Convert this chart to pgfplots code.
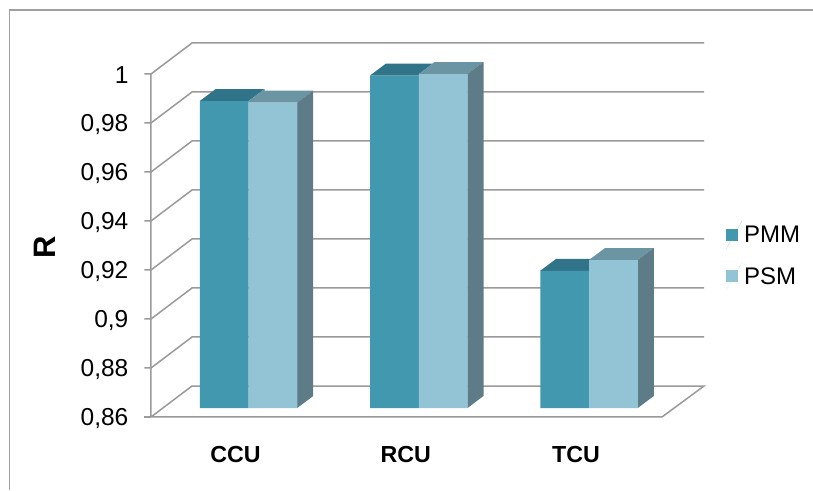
\documentclass[border=0pt]{standalone}
\usepackage{pgfplots}
\usepackage{fontspec}
\setmainfont{Liberation Sans}
\pgfplotsset{compat=1.18}
\definecolor{pmm}{HTML}{4198AF}
\definecolor{pmmtop}{HTML}{31748A}
\definecolor{psm}{HTML}{93C4D6}
\definecolor{psmtop}{HTML}{6C95A3}
\definecolor{side}{HTML}{5D7C87}
\definecolor{gridc}{HTML}{9A9A9A}
\definecolor{framec}{HTML}{A0A0A0}
\begin{document}
\begin{tikzpicture}[x=1pt,y=1pt]
\useasboundingbox (0,0) rectangle (813,490);
\fill[white] (0,0) rectangle (813,490);
\draw[framec,line width=1.5pt] (9.5,0) -- (9.5,480) -- (813,480);
\begin{axis}[
  at={(163.375pt,82pt)},anchor=south west,
  scale only axis,width=510.75pt,height=343pt,
  xmin=-0.5,xmax=2.5,ymin=0.86,ymax=1,
  clip=false,
  axis line style={draw=none},
  major tick length=0pt,
  xtick={0,1,2},xticklabels={CCU,RCU,TCU},
  ytick={0.86,0.88,0.9,0.92,0.94,0.96,0.98,1},
  yticklabel style={/pgf/number format/.cd,use comma,fixed,precision=2,assume math mode=true,/tikz/.cd,
    font=\fontsize{24.5}{28}\selectfont,text=black,inner sep=0pt,anchor=east,xshift=-34.8pt,yshift=-10.5pt},
  xticklabel style={font=\fontsize{23.2}{28}\selectfont\bfseries,text=black,inner sep=0pt,anchor=base,xshift=-13pt,yshift=-54.7pt},
  ylabel={R},
  every axis y label/.style={at={(axis description cs:-0.2318,0.4694)},rotate=90,anchor=center,font=\fontsize{31}{34}\selectfont\bfseries},
  legend style={at={(axis description cs:1.1016,0.5452)},anchor=north west,draw=none,fill=none,inner sep=0pt,outer sep=0pt,
    font=\fontsize{24}{28}\selectfont,row sep=13.5pt,/tikz/every even column/.append style={column sep=0pt}},
  legend cell align=left,
]
% walls and floor
\addplot[gridc,line width=1.5pt,forget plot] coordinates {(-0.5727,0.99633)(-0.5727,0.85633)(2.4288,0.85633)(2.6755,0.86898)(-0.3319,0.86898)(-0.5727,0.85633)};
\addplot[gridc,line width=1.5pt,forget plot] coordinates {(-0.611,0.85633)(-0.5727,0.85633)};
\addplot[gridc,line width=1.5pt,forget plot] coordinates {(-0.611,0.87633)(-0.5727,0.87633)(-0.3319,0.88898)(2.6755,0.88898)};
\addplot[gridc,line width=1.5pt,forget plot] coordinates {(-0.611,0.89633)(-0.5727,0.89633)(-0.3319,0.90898)(2.6755,0.90898)};
\addplot[gridc,line width=1.5pt,forget plot] coordinates {(-0.611,0.91633)(-0.5727,0.91633)(-0.3319,0.92898)(2.6755,0.92898)};
\addplot[gridc,line width=1.5pt,forget plot] coordinates {(-0.611,0.93633)(-0.5727,0.93633)(-0.3319,0.94898)(2.6755,0.94898)};
\addplot[gridc,line width=1.5pt,forget plot] coordinates {(-0.611,0.95633)(-0.5727,0.95633)(-0.3319,0.96898)(2.6755,0.96898)};
\addplot[gridc,line width=1.5pt,forget plot] coordinates {(-0.611,0.97633)(-0.5727,0.97633)(-0.3319,0.98898)(2.6755,0.98898)};
\addplot[gridc,line width=1.5pt,forget plot] coordinates {(-0.611,0.99633)(-0.5727,0.99633)(-0.3319,1.00898)(2.6755,1.00898)};
% bar tops and sides
\addplot[fill=pmmtop,draw=none,forget plot] coordinates {(-0.2863,0.9853)(-0.1923,0.9902)(0.094,0.9902)(0,0.9853)} --cycle;
\addplot[fill=psmtop,draw=none,forget plot] coordinates {(0,0.9846)(0,0.9853)(0.094,0.9902)(0.094,0.9895)(0.3803,0.9895)(0.2863,0.9846)} --cycle;
\addplot[fill=side,draw=none,forget plot] coordinates {(0.2863,0.86)(0.3803,0.8649)(0.3803,0.9895)(0.2863,0.9846)} --cycle;
\addplot[fill=pmmtop,draw=none,forget plot] coordinates {(0.7137,0.9957)(0.8077,1.0006)(1.094,1.0006)(1.094,1.0012)(1,0.9963)(1,0.9957)} --cycle;
\addplot[fill=psmtop,draw=none,forget plot] coordinates {(1,0.9963)(1.094,1.0012)(1.3803,1.0012)(1.2863,0.9963)} --cycle;
\addplot[fill=side,draw=none,forget plot] coordinates {(1.2863,0.86)(1.3803,0.8649)(1.3803,1.0012)(1.2863,0.9963)} --cycle;
\addplot[fill=pmmtop,draw=none,forget plot] coordinates {(1.7137,0.916)(1.8077,0.9209)(2.094,0.9209)(2,0.916)} --cycle;
\addplot[fill=psmtop,draw=none,forget plot] coordinates {(2,0.9204)(2.094,0.9253)(2.3803,0.9253)(2.2863,0.9204)} --cycle;
\addplot[fill=side,draw=none,forget plot] coordinates {(2.2863,0.86)(2.3803,0.8649)(2.3803,0.9253)(2.2863,0.9204)} --cycle;
% bar fronts
\addplot[ybar,bar width=48.75pt,bar shift=-24.375pt,fill=pmm,draw=none,
  legend image code/.code={\fill[pmm] (0pt,-6pt) rectangle (12pt,6pt);\path (0pt,-14pt) -- (16pt,14pt);}]
  coordinates {(0,0.9853)(1,0.9957)(2,0.916)};
\addlegendentry{PMM}
\addplot[ybar,bar width=48.75pt,bar shift=24.375pt,fill=psm,draw=none,
  legend image code/.code={\fill[psm] (0pt,-6pt) rectangle (12pt,6pt);\path (0pt,-14pt) -- (16pt,14pt);}]
  coordinates {(0,0.9846)(1,0.9963)(2,0.9204)};
\addlegendentry{PSM}
\end{axis}
\end{tikzpicture}
\end{document}
